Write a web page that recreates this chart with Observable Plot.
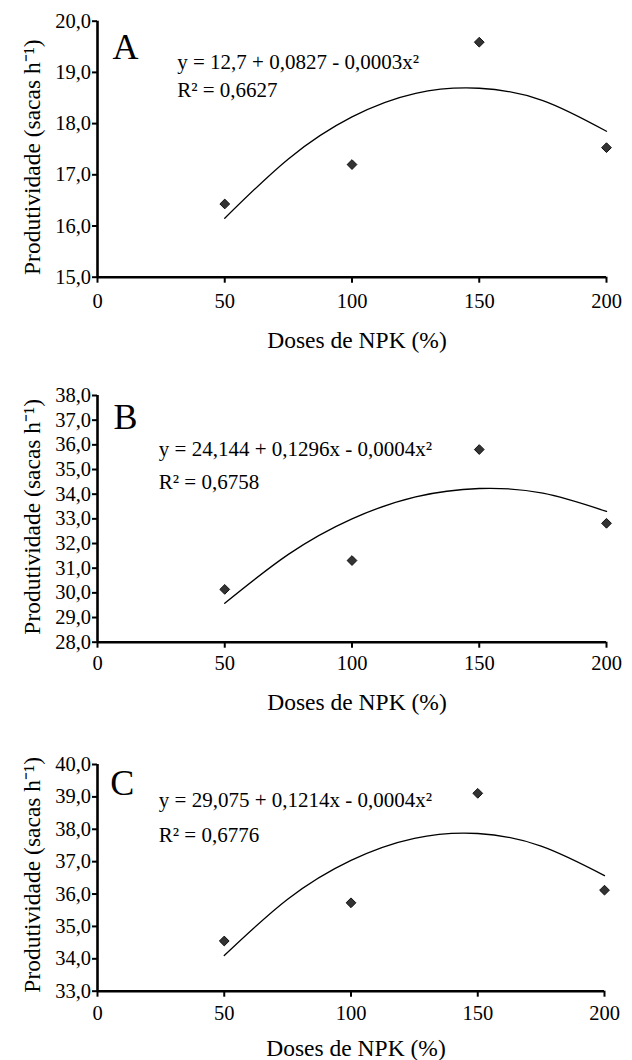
<!DOCTYPE html>
<html><head><meta charset="utf-8">
<script src="https://cdn.jsdelivr.net/npm/d3@7"></script>
<script src="https://cdn.jsdelivr.net/npm/@observablehq/plot@0.6"></script>
<style>
body{margin:0;background:#fff;}
#chart svg{display:block;}
#chart svg, #chart svg text{font-family:"Liberation Serif","Times New Roman",serif !important;}
</style></head><body><div id="chart"></div>
<script>
// ---- data ----
const doses = [50, 100, 150, 200];
const prodA = [16.43, 17.20, 19.59, 17.53];
const prodB = [30.14, 31.31, 35.81, 32.82];
const prodC = [34.55, 35.73, 39.11, 36.12];
// fitted curves
const curveX = [50, 75, 100, 125, 150, 175, 200];
const curveA = [16.15, 17.31, 18.13, 18.59, 18.69, 18.45, 17.85];
const curveB = [29.58, 31.56, 33.00, 33.89, 34.23, 34.04, 33.30];
const curveC = [34.10, 35.84, 37.04, 37.72, 37.87, 37.48, 36.57];
const xTicks = [0, 50, 100, 150, 200];
const yTicksA = [15, 16, 17, 18, 19, 20];
const yTicksB = [28, 29, 30, 31, 32, 33, 34, 35, 36, 37, 38];
const yTicksC = [33, 34, 35, 36, 37, 38, 39, 40];
const panelLetters = ["A", "B", "C"];
const equations = ["y = 12,7 + 0,0827 - 0,0003x²", "y = 24,144 + 0,1296x - 0,0004x²", "y = 29,075 + 0,1214x - 0,0004x²"];
const r2Labels = ["R² = 0,6627", "R² = 0,6758", "R² = 0,6776"];
const xLabel = "Doses de NPK (%)";
const yLabel = "Produtividade (sacas h⁻¹)";

const FONT = '"Liberation Serif", "Times New Roman", serif';

const panels = [
  {prod: prodA, curve: curveA, ticks: yTicksA, height: 360, mt: 20.7, mb: 83.3, mr: 26, tp: 10.5, xl: 63.3, yl: 8,
   letter: [28, 26], eq: [79.7, 41], r2: [79.7, 69.3]},
  {prod: prodB, curve: curveB, ticks: yTicksB, height: 360, mt: 35, mb: 78.3, mr: 26, tp: 7.5, xl: 60, yl: -2,
   letter: [28, 22], eq: [61.3, 53.3], r2: [61.3, 86.7]},
  {prod: prodC, curve: curveC, ticks: yTicksC, height: 340, mt: 44, mb: 69.3, mr: 28, tp: 8.5, xl: 57.5, yl: -3,
   letter: [24.7, 19.3], eq: [61.3, 35.3], r2: [61.3, 71]}
];

const fmt = d => d.toFixed(1).replace(".", ",");
const root = document.getElementById("chart");

panels.forEach((p, k) => {
  const pts = doses.map((d, i) => ({dose: d, value: p.prod[i]}));
  const line = curveX.map((d, i) => ({dose: d, value: p.curve[i]}));
  const y0 = p.ticks[0], y1 = p.ticks[p.ticks.length - 1];
  const chart = Plot.plot({
    width: 632,
    height: p.height,
    marginTop: p.mt,
    marginBottom: p.mb,
    marginLeft: 97,
    marginRight: p.mr,
    style: {fontFamily: FONT, fontSize: "20.5px", color: "#000", background: "#fff"},
    x: {domain: [0, 200]},
    y: {domain: [y0, y1]},
    marks: [
      Plot.line(line, {x: "dose", y: "value", curve: "natural", stroke: "#000", strokeWidth: 1.3}),
      Plot.dot(pts, {x: "dose", y: "value", symbol: "diamond2", r: 4.4, fill: "#333", stroke: "#111", strokeWidth: 1}),
      Plot.axisX({ticks: xTicks, tickSize: 6, tickPadding: p.tp, strokeWidth: 2, label: null, fontSize: 20.5, fontFamily: FONT}),
      Plot.axisY({ticks: p.ticks, tickSize: 5, tickPadding: 1.5, strokeWidth: 2, tickFormat: fmt, label: null, fontSize: 20.5, fontFamily: FONT}),
      Plot.ruleY([y0], {stroke: "#000", strokeWidth: 2.6}),
      Plot.ruleX([0], {stroke: "#000", strokeWidth: 2.6}),
      Plot.text([panelLetters[k]], {frameAnchor: "top-left", text: d => d, dx: p.letter[0], dy: p.letter[1],
        textAnchor: "middle", lineAnchor: "middle", fontSize: 36, fontFamily: FONT, fill: "#000"}),
      Plot.text([equations[k]], {frameAnchor: "top-left", text: d => d, dx: p.eq[0], dy: p.eq[1],
        textAnchor: "start", lineAnchor: "middle", fontSize: 21, fontFamily: FONT, fill: "#000"}),
      Plot.text([r2Labels[k]], {frameAnchor: "top-left", text: d => d, dx: p.r2[0], dy: p.r2[1],
        textAnchor: "start", lineAnchor: "middle", fontSize: 21, fontFamily: FONT, fill: "#000"}),
      Plot.text([xLabel], {frameAnchor: "bottom", text: d => d, dx: 5, dy: p.xl,
        textAnchor: "middle", lineAnchor: "middle", fontSize: 23.5, fontFamily: FONT, fill: "#000"}),
      Plot.text([yLabel], {frameAnchor: "left", text: d => d, dx: -65.3, dy: p.yl, rotate: -90,
        textAnchor: "middle", lineAnchor: "middle", fontSize: 23.5, fontFamily: FONT, fill: "#000"})
    ]
  });
  root.appendChild(chart);
});
</script>
</body></html>
